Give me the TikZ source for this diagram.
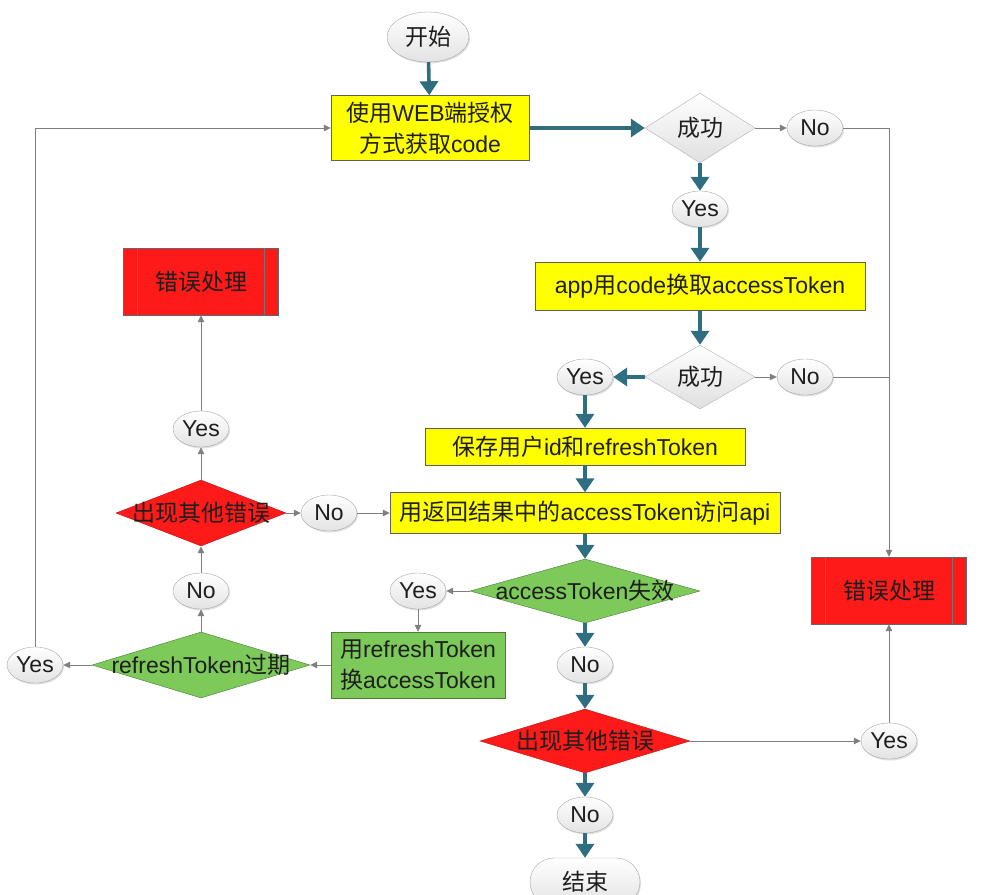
\documentclass[tikz,border=0pt]{standalone}
\usepackage{fontspec}
\setmainfont{Liberation Sans}
\newfontfamily\zhfont{Noto Sans CJK SC}
\newcommand{\zh}[1]{{\zhfont #1}}
\usetikzlibrary{shapes.geometric,arrows.meta,shadows}
\definecolor{flowteal}{HTML}{2E6E80}
\definecolor{linegray}{HTML}{7F7F7F}
\definecolor{boxyellow}{HTML}{FFFF00}
\definecolor{boxgreen}{HTML}{7DC95A}
\definecolor{boxred}{HTML}{FF1A1A}
\definecolor{txt}{HTML}{1E1E1E}
\tikzset{
  oval/.style={ellipse, draw=gray!70, top color=white, bottom color=gray!22,
    minimum width=56pt, minimum height=36pt, inner sep=0pt,
    drop shadow={opacity=0.25, shadow xshift=1pt, shadow yshift=-1.5pt}},
  ybox/.style={rectangle, draw=gray!75!black, fill=boxyellow, inner sep=0pt},
  gbox/.style={rectangle, draw=boxgreen!60!black, fill=boxgreen, inner sep=0pt},
  errbox/.style={rectangle, draw=gray!80!black, fill=boxred, inner sep=0pt,
    minimum width=155pt, minimum height=67pt},
  errline/.style={draw=black!55, line width=1.1pt},
  graydia/.style={diamond, draw=gray!60, top color=white, bottom color=gray!25, inner sep=0pt},
  greendia/.style={diamond, draw=boxgreen!60!black, fill=boxgreen, inner sep=0pt},
  reddia/.style={diamond, draw=boxred!70!black, fill=boxred, inner sep=0pt},
  tk/.style={draw=flowteal, line width=3.6pt, -{Triangle[length=14pt,width=18pt]}},
  tn/.style={draw=linegray, line width=1pt, -{Triangle[length=7pt,width=6.5pt]}},
  tl/.style={draw=linegray, line width=1pt},
}
\begin{document}
\begin{tikzpicture}[x=1pt,y=-1pt,font=\fontsize{23}{31}\selectfont, text=txt]
\useasboundingbox (0,0) rectangle (982,894);
\clip (0,0) rectangle (982,894);
% nodes
\node[oval, minimum width=82pt, minimum height=50pt] (start) at (428,37) {\zh{开始}};
\node[ybox, minimum width=198pt, minimum height=65pt, align=center] (box1) at (430,128)
  {\zh{使用}WEB\zh{端授权}\\\zh{方式获取}code};
\node[graydia, minimum width=110pt, minimum height=70pt, label={[name=d1t]center:\zh{成功}}] (d1) at (700,128) {};
\node[oval] (no1) at (815,128) {No};
\node[oval] (yes1) at (700,209) {Yes};
\node[ybox, minimum width=330pt, minimum height=48pt] (box2) at (700,286) {app\zh{用}code\zh{换取}accessToken};
\node[graydia, minimum width=110pt, minimum height=64pt, label={[name=d2t]center:\zh{成功}}] (d2) at (700,377) {};
\node[oval] (yes2) at (585,377) {Yes};
\node[oval] (no2) at (805,377) {No};
\node[ybox, minimum width=320pt, minimum height=37pt] (box3) at (585,446.5) {\zh{保存用户}id\zh{和}refreshToken};
\node[ybox, minimum width=390pt, minimum height=41pt] (box4) at (585,513) {\zh{用返回结果中的}accessToken\zh{访问}api};
\node[greendia, minimum width=230pt, minimum height=64pt, label={[name=d3t]center:accessToken\zh{失效}}] (d3) at (585,591) {};
\node[oval] (yes3) at (418,591) {Yes};
\node[gbox, minimum width=174pt, minimum height=66pt, align=center] (box5) at (418,665)
  {\zh{用}refreshToken\\\zh{换}accessToken};
\node[greendia, minimum width=218pt, minimum height=66pt, label={[name=d4t]center:refreshToken\zh{过期}}] (d4) at (201,665) {};
\node[oval] (yes4) at (35,665) {Yes};
\node[oval] (no4) at (201,591) {No};
\node[reddia, minimum width=170pt, minimum height=66pt, label={[name=d5t]center:\zh{出现其他错误}}] (d5) at (201,513) {};
\node[oval] (no5) at (329,513) {No};
\node[oval] (yes5) at (201,429) {Yes};
\node[errbox] (err1) at (201,281.5) {\zh{错误处理}};
\node[errbox] (err2) at (889,590.5) {\zh{错误处理}};
\node[oval] (no6) at (585,665) {No};
\node[reddia, minimum width=210pt, minimum height=64pt, label={[name=d6t]center:\zh{出现其他错误}}] (d6) at (585,741) {};
\node[oval] (yes6) at (889,741) {Yes};
\node[oval] (no7) at (585,815) {No};
\node[rectangle, rounded corners=24pt, draw=gray!70, top color=white, bottom color=gray!22,
  minimum width=110pt, minimum height=48pt, inner sep=0pt,
  drop shadow={opacity=0.25, shadow xshift=1pt, shadow yshift=-1.5pt}] (end) at (585,882) {\zh{结束}};
% inner lines of error boxes
\draw[errline] ([xshift=14pt]err1.north west) -- ([xshift=14pt]err1.south west);
\draw[errline] ([xshift=-14pt]err1.north east) -- ([xshift=-14pt]err1.south east);
\draw[errline] ([xshift=14pt]err2.north west) -- ([xshift=14pt]err2.south west);
\draw[errline] ([xshift=-14pt]err2.north east) -- ([xshift=-14pt]err2.south east);
% thick connectors
\draw[tk] (start) -- (box1);
\draw[tk] (box1.east) -- (d1.west);
\draw[tk] (d1.south) -- (yes1.north);
\draw[tk] (yes1) -- (box2);
\draw[tk] (box2) -- (d2.north);
\draw[tk] (d2.west) -- (yes2.east);
\draw[tk] (yes2) -- (box3);
\draw[tk] (box3) -- (box4);
\draw[tk] (box4) -- (d3.north);
\draw[tk] (d3.south) -- (no6.north);
\draw[tk] (no6) -- (d6.north);
\draw[tk] (d6.south) -- (no7.north);
\draw[tk] (no7) -- (end);
% thin connectors
\draw[tn] (d1.east) -- (no1.west);
\draw[tn] (no1.east) -| (err2.north);
\draw[tn] (d2.east) -- (no2.west);
\draw[tl] (no2.east) -- (no2.east -| err2.north);
\draw[tn] (d3.west) -- (yes3.east);
\draw[tn] (yes3) -- (box5);
\draw[tn] (box5.west) -- (d4.east);
\draw[tn] (d4.west) -- (yes4.east);
\draw[tn] (yes4.north) |- (box1.west);
\draw[tn] (d4.north) -- (no4.south);
\draw[tn] (no4.north) -- (d5.south);
\draw[tn] (d5.east) -- (no5.west);
\draw[tn] (no5.east) -- (box4.west);
\draw[tn] (d5.north) -- (yes5.south);
\draw[tn] (yes5.north) -- (err1.south);
\draw[tn] (d6.east) -- (yes6.west);
\draw[tn] (yes6.north) -- (err2.south);
\end{tikzpicture}
\end{document}
